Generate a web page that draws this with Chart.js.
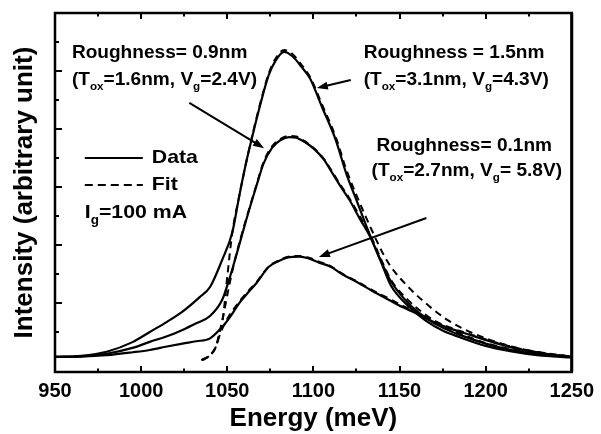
<!DOCTYPE html>
<html>
<head>
<meta charset="utf-8">
<title>Intensity vs Energy</title>
<script src="https://cdn.jsdelivr.net/npm/chart.js@4.4.1/dist/chart.umd.min.js"></script>
<style>
  html, body { margin: 0; padding: 0; background: #fff; }
  #chart { display: block; }
</style>
</head>
<body>
<canvas id="chart" width="601" height="434"></canvas>
<script>
// measured curves (solid) - roughness 1.5nm, 0.9nm, 0.1nm
const energyA = [950, 965, 980, 995, 1005, 1015, 1024, 1034, 1040, 1047, 1053, 1057, 1061, 1065, 1069, 1074, 1078, 1083, 1088, 1093, 1098, 1105, 1113, 1119, 1125, 1134, 1140, 1145, 1155, 1165, 1175, 1185, 1200, 1215, 1230, 1250];
const intensityA = [0.14, 0.18, 0.32, 0.65, 1.0, 1.35, 1.7, 2.2, 2.55, 3.48, 4.45, 5.7, 6.85, 7.85, 8.8, 9.85, 10.35, 10.66, 10.5, 10.15, 9.75, 8.76, 7.62, 6.48, 5.55, 4.17, 3.35, 2.75, 2.0, 1.5, 1.15, 0.9, 0.6, 0.38, 0.24, 0.14];

const energyB = [950, 965, 980, 995, 1005, 1015, 1024, 1032, 1040, 1047, 1051, 1055, 1061, 1067, 1071, 1076, 1081, 1086, 1090, 1095, 1101, 1106, 1111, 1116, 1121, 1127, 1133, 1139, 1145, 1155, 1165, 1175, 1185, 1200, 1215, 1230, 1250];
const intensityB = [0.14, 0.16, 0.25, 0.45, 0.66, 0.85, 1.07, 1.3, 1.55, 2.1, 2.79, 3.59, 4.86, 6.05, 6.8, 7.35, 7.62, 7.72, 7.7, 7.55, 7.28, 6.95, 6.48, 6.0, 5.55, 4.9, 4.28, 3.45, 2.6, 1.9, 1.4, 1.05, 0.82, 0.52, 0.33, 0.2, 0.12];

const energyC = [950, 965, 980, 995, 1005, 1015, 1024, 1032, 1040, 1047, 1052, 1057, 1062, 1067, 1074, 1080, 1086, 1092, 1098, 1103, 1110, 1117, 1126, 1134, 1144, 1152, 1159, 1168, 1178, 1192, 1207, 1220, 1235, 1250];
const intensityC = [0.14, 0.15, 0.2, 0.3, 0.38, 0.5, 0.6, 0.68, 0.78, 1.17, 1.55, 2.0, 2.35, 2.69, 3.24, 3.45, 3.58, 3.6, 3.52, 3.4, 3.25, 2.98, 2.7, 2.42, 2.1, 1.85, 1.66, 1.4, 1.15, 0.88, 0.6, 0.4, 0.25, 0.14];

// fits (dashed)
const fitEnergyA = [1035, 1040, 1043.5, 1045.5, 1047.5, 1050, 1053, 1057, 1061, 1065, 1069, 1074, 1078, 1083, 1088, 1093, 1098, 1105, 1113, 1119, 1125, 1134, 1140, 1145, 1155, 1165, 1178, 1186, 1200, 1215, 1230, 1250];
const fitIntensityA = [0.03, 0.2, 0.5, 0.97, 1.5, 2.9, 4.45, 5.7, 6.85, 7.9, 8.85, 9.9, 10.42, 10.72, 10.58, 10.22, 9.8, 8.85, 7.72, 6.62, 5.72, 4.5, 3.75, 3.25, 2.56, 2.0, 1.41, 1.14, 0.78, 0.5, 0.3, 0.15];

const fitEnergyB = [1035, 1040, 1043.5, 1045.5, 1047.5, 1051, 1055, 1061, 1067, 1071, 1076, 1081, 1086, 1090, 1095, 1101, 1106, 1111, 1116, 1121, 1127, 1133, 1139, 1145, 1155, 1165, 1175, 1185, 1200, 1215, 1230, 1250];
const fitIntensityB = [0.03, 0.2, 0.5, 0.97, 1.5, 2.56, 3.62, 4.9, 6.08, 6.85, 7.4, 7.66, 7.76, 7.74, 7.58, 7.3, 6.98, 6.52, 6.05, 5.6, 4.98, 4.35, 3.55, 2.8, 2.1, 1.6, 1.22, 0.95, 0.62, 0.4, 0.25, 0.15];

const fitEnergyC = [1036, 1040, 1043.5, 1046, 1050, 1057, 1062, 1067, 1074, 1080, 1086, 1092, 1098, 1103, 1110, 1117, 1126, 1134, 1144, 1152, 1159, 1168, 1178, 1192, 1207, 1220, 1235, 1250];
const fitIntensityC = [0.03, 0.2, 0.5, 0.95, 1.45, 2.05, 2.4, 2.72, 3.25, 3.47, 3.6, 3.62, 3.55, 3.43, 3.27, 3.0, 2.72, 2.45, 2.15, 1.9, 1.7, 1.44, 1.18, 0.9, 0.62, 0.42, 0.27, 0.15];

// axis range
const energyMin = 950, energyMax = 1250, energyStep = 25;
const intensityMin = -0.38, intensityMax = 12;

// annotations, placed in data units (energy, intensity)
const annotations = [
  { e: 959.8, i: 10.62, parts: [['Roughness= 0.9nm', 0]] },
  { e: 959.8, i: 9.69, parts: [['(T', 0], ['ox', 1], ['=1.6nm, V', 0], ['g', 1], ['=2.4V)', 0]] },
  { e: 1129.2, i: 10.62, parts: [['Roughness = 1.5nm', 0]] },
  { e: 1129.2, i: 9.69, parts: [['(T', 0], ['ox', 1], ['=3.1nm, V', 0], ['g', 1], ['=4.3V)', 0]] },
  { e: 1136.7, i: 7.41, parts: [['Roughness= 0.1nm', 0]] },
  { e: 1133.8, i: 6.55, parts: [['(T', 0], ['ox', 1], ['=2.7nm, V', 0], ['g', 1], ['= 5.8V)', 0]] }
];
const arrows = [
  { from: [1028, 8.9], to: [1071.4, 7.34] },
  { from: [1121.7, 9.69], to: [1102, 9.41] },
  { from: [1165.6, 4.93], to: [1103.2, 3.59] }
];
const legendItems = [
  { e: 967.3, i: 7.0, dash: [], parts: [['Data', 0]] },
  { e: 967.3, i: 6.07, dash: [8, 5], parts: [['Fit', 0]] }
];
const currentLabel = { e: 967.3, i: 5.1, parts: [['I', 0], ['g', 1], ['=100 mA', 0]] };

const FONT = '"Liberation Sans", Arial, Helvetica, sans-serif';

function toPoints(xs, ys) {
  return xs.map((x, k) => ({ x: x, y: ys[k] }));
}

function drawParts(ctx, parts, x, y, size, stretch) {
  ctx.save();
  ctx.translate(x, y);
  ctx.scale(stretch, 1);
  ctx.fillStyle = '#000';
  ctx.textBaseline = 'middle';
  ctx.textAlign = 'left';
  let cx = 0;
  parts.forEach(p => {
    const sub = p[1] === 1;
    const fs = sub ? Math.round(size * 0.62) : size;
    ctx.font = 'bold ' + fs + 'px ' + FONT;
    ctx.fillText(p[0], cx, sub ? size * 0.38 : 0);
    cx += ctx.measureText(p[0]).width;
  });
  ctx.restore();
}

function drawArrow(ctx, x1, y1, x2, y2) {
  const ang = Math.atan2(y2 - y1, x2 - x1);
  const head = 11, half = 4;
  ctx.save();
  ctx.strokeStyle = '#000';
  ctx.fillStyle = '#000';
  ctx.lineWidth = 2;
  ctx.beginPath();
  ctx.moveTo(x1, y1);
  ctx.lineTo(x2 - Math.cos(ang) * head * 0.8, y2 - Math.sin(ang) * head * 0.8);
  ctx.stroke();
  ctx.beginPath();
  ctx.moveTo(x2, y2);
  ctx.lineTo(x2 - Math.cos(ang) * head + Math.sin(ang) * half, y2 - Math.sin(ang) * head - Math.cos(ang) * half);
  ctx.lineTo(x2 - Math.cos(ang) * head - Math.sin(ang) * half, y2 - Math.sin(ang) * head + Math.cos(ang) * half);
  ctx.closePath();
  ctx.fill();
  ctx.restore();
}

// frame, inward ticks, arrows and texts
const decorPlugin = {
  id: 'decor',
  afterDraw(chart) {
    const ctx = chart.ctx;
    const area = chart.chartArea;
    const xs = chart.scales.x, ys = chart.scales.y;

    ctx.save();
    ctx.strokeStyle = '#000';

    // ticks on bottom and top (inward)
    ctx.lineWidth = 2;
    xs.ticks.forEach(t => {
      const px = Math.round(xs.getPixelForValue(t.value));
      if (px <= area.left + 1 || px >= area.right - 1) return;
      const len = t.value % 50 === 0 ? 6 : 3.5;
      ctx.beginPath();
      ctx.moveTo(px, area.bottom);
      ctx.lineTo(px, area.bottom - len);
      ctx.moveTo(px, area.top);
      ctx.lineTo(px, area.top + len);
      ctx.stroke();
    });
    // ticks on left (inward)
    ys.ticks.forEach(t => {
      if (!Number.isInteger(t.value) || t.value <= 0 || t.value >= intensityMax) return;
      const py = Math.round(ys.getPixelForValue(t.value));
      const len = t.value % 2 === 0 ? 7 : 4;
      ctx.beginPath();
      ctx.moveTo(area.left, py);
      ctx.lineTo(area.left + len, py);
      ctx.stroke();
    });

    // frame
    ctx.lineWidth = 2.5;
    ctx.strokeRect(area.left, area.top, area.right - area.left, area.bottom - area.top);
    ctx.lineWidth = 3;
    ctx.beginPath();
    ctx.moveTo(area.right, area.top);
    ctx.lineTo(area.right, area.bottom);
    ctx.stroke();
    ctx.restore();

    arrows.forEach(a => {
      drawArrow(ctx,
        xs.getPixelForValue(a.from[0]), ys.getPixelForValue(a.from[1]),
        xs.getPixelForValue(a.to[0]), ys.getPixelForValue(a.to[1]));
    });

    annotations.forEach(a => {
      drawParts(ctx, a.parts, xs.getPixelForValue(a.e), ys.getPixelForValue(a.i), 18, 1.06);
    });

    // legend
    legendItems.forEach(l => {
      const x0 = xs.getPixelForValue(l.e);
      const y0 = ys.getPixelForValue(l.i);
      ctx.save();
      ctx.strokeStyle = '#000';
      ctx.lineWidth = 2;
      ctx.setLineDash(l.dash);
      ctx.beginPath();
      ctx.moveTo(x0, y0);
      ctx.lineTo(x0 + 58, y0);
      ctx.stroke();
      ctx.restore();
      drawParts(ctx, l.parts, x0 + 67, y0, 19, 1.12);
    });
    drawParts(ctx, currentLabel.parts, xs.getPixelForValue(currentLabel.e), ys.getPixelForValue(currentLabel.i), 19, 1.12);
  }
};

function solid(label, xs, ys) {
  return {
    label: label,
    data: toPoints(xs, ys),
    borderColor: '#000',
    borderWidth: 2.2,
    pointRadius: 0,
    fill: false,
    cubicInterpolationMode: 'monotone'
  };
}
function dashed(label, xs, ys) {
  const d = solid(label, xs, ys);
  d.borderDash = [7, 5];
  d.borderWidth = 2;
  return d;
}

const ctx = document.getElementById('chart').getContext('2d');
new Chart(ctx, {
  type: 'line',
  data: {
    datasets: [
      solid('Data 1.5nm', energyA, intensityA),
      solid('Data 0.9nm', energyB, intensityB),
      solid('Data 0.1nm', energyC, intensityC),
      dashed('Fit 1.5nm', fitEnergyA, fitIntensityA),
      dashed('Fit 0.9nm', fitEnergyB, fitIntensityB),
      dashed('Fit 0.1nm', fitEnergyC, fitIntensityC)
    ]
  },
  options: {
    responsive: false,
    animation: false,
    devicePixelRatio: 1,
    layout: { padding: { top: 13, right: 27, left: 0, bottom: 0 } },
    plugins: { legend: { display: false }, tooltip: { enabled: false } },
    scales: {
      x: {
        type: 'linear',
        min: energyMin,
        max: energyMax,
        grid: { display: false, drawTicks: false },
        border: { display: false },
        ticks: {
          stepSize: energyStep,
          autoSkip: false,
          maxRotation: 0,
          padding: 7,
          color: '#000',
          font: { family: FONT, weight: 'bold', size: 20 },
          callback: v => (v % 50 === 0 ? String(v) : '')
        },
        title: {
          display: true,
          text: 'Energy (meV)',
          color: '#000',
          font: { family: FONT, weight: 'bold', size: 26 },
          padding: { top: 0, bottom: 0 }
        },
        afterFit(scale) { scale.height = 62; }
      },
      y: {
        type: 'linear',
        min: intensityMin,
        max: intensityMax,
        grid: { display: false, drawTicks: false },
        border: { display: false },
        ticks: { display: false, stepSize: 1 },
        title: {
          display: true,
          text: 'Intensity (arbitrary unit)',
          color: '#000',
          font: { family: FONT, weight: 'bold', size: 26 },
          padding: { top: 9, bottom: 0 }
        },
        afterFit(scale) { scale.width = 55; }
      }
    }
  },
  plugins: [decorPlugin]
});
</script>
</body>
</html>
